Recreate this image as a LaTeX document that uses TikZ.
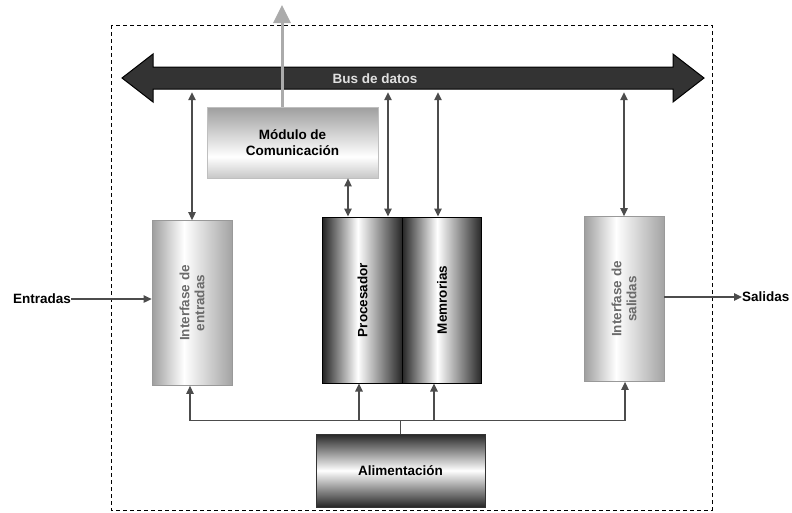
\documentclass[tikz,border=0pt]{standalone}
\usepackage{fontspec}
\setmainfont{Liberation Sans}
\usetikzlibrary{arrows.meta}
\pgfdeclarehorizontalshading{ifsh}{100bp}{color(0bp)=(black!38); color(25bp)=(black!38); color(45bp)=(white); color(75bp)=(black!36); color(100bp)=(black!36)}
\pgfdeclarehorizontalshading{cysh}{100bp}{color(0bp)=(black!85); color(25bp)=(black!85); color(47bp)=(white); color(75bp)=(black!85); color(100bp)=(black!85)}
\pgfdeclareverticalshading{mosh}{100bp}{color(0bp)=(black!22); color(25bp)=(black!22); color(40bp)=(white); color(75bp)=(black!38); color(100bp)=(black!38)}
\pgfdeclareverticalshading{alsh}{100bp}{color(0bp)=(black!85); color(25bp)=(black!85); color(50bp)=(white); color(75bp)=(black!85); color(100bp)=(black!85)}
\begin{document}
\begin{tikzpicture}[x=1pt,y=-1pt,
  font=\bfseries\fontsize{13.5}{15.5}\selectfont,
  conn/.style={draw=black!70, line width=1.3pt},
  tip/.style={-{Triangle[length=8pt,width=7.5pt]}},
  dtip/.style={{Triangle[length=8pt,width=7.5pt]}-{Triangle[length=8pt,width=7.5pt]}},
  iface/.style={draw=black!40, line width=0.8pt, shading=ifsh, minimum width=80pt, minimum height=165pt, inner sep=0pt},
  cyl/.style={draw=black, line width=1pt, shading=cysh, minimum width=79.5pt, minimum height=166pt, inner sep=0pt},
  modbox/.style={draw=black!25, line width=0.8pt, shading=mosh, minimum width=171pt, minimum height=71pt, inner sep=0pt, align=center},
  alibox/.style={draw=black!80, line width=1pt, shading=alsh, minimum width=169pt, minimum height=73pt, inner sep=0pt},
  vtext/.style={rotate=90, align=center, inner sep=0pt, font=\bfseries\fontsize{13.5}{15}\selectfont},
  lbl/.style={inner sep=0pt}
]
\useasboundingbox (0,0) rectangle (792,512);

% dashed frame
\draw[black, line width=0.9pt, dash pattern=on 4pt off 3pt] (111,25) rectangle (712,510);

% bus arrow
\draw[fill=black!80, draw=black, line width=1pt]
  (122,78) -- (153,54) -- (153,67) -- (673,67) -- (673,54) -- (704,78)
  -- (673,102) -- (673,89) -- (153,89) -- (153,102) -- cycle;
\node[minimum width=520pt, minimum height=28pt, inner sep=0pt] (bus) at (413,78) {};
\node[lbl, text=white!88!black] (bustxt) at (375,79) {Bus de datos};

% boxes
\node[iface] (ent) at (192,303) {};
\node[vtext, text=black!58] (enttxt) at (ent.center) {Interfase de\\entradas};
\node[cyl] (proc) at (362.5,300) {};
\node[vtext, text=black] (proctxt) at (proc.center) {Procesador};
\node[cyl] (mem) at (442,300) {};
\node[vtext, text=black] (memtxt) at (mem.center) {Memrorias};
\node[iface] (sal) at (624,299) {};
\node[vtext, text=black!58] (saltxt) at (sal.center) {Interfase de\\salidas};
\node[modbox] (mod) at (292.5,142.5) {Módulo de\\Comunicación};
\node[alibox] (ali) at (400.5,470.5) {Alimentación};

% external labels
\node[lbl, anchor=east] (entr) at (71,299) {Entradas};
\node[lbl, anchor=west] (sali) at (742,297) {Salidas};
\draw[conn, tip] (entr.east) -- (ent.west |- entr.east);
\draw[conn, tip] (sal.east |- sali.west) -- (sali.west);

% communication arrow up
\coordinate (top) at (282,5);
\draw[draw=black!33, line width=3pt, -{Triangle[length=18pt,width=17pt]}] ([xshift=-10.5pt]mod.north) -- (top);

% bus connections
\coordinate (pa) at ([xshift=25.5pt]proc.north);
\coordinate (ma) at ([xshift=-4pt]mem.north);
\coordinate (pm) at ([xshift=-14.5pt]proc.north);
\draw[conn, dtip] (ent.north |- bus.south) -- (ent.north);
\draw[conn, dtip] (pa |- bus.south) -- (pa);
\draw[conn, dtip] (ma |- bus.south) -- (ma);
\draw[conn, dtip] (sal.north |- bus.south) -- (sal.north);
\draw[conn, dtip] (pm |- mod.south) -- (pm);

% power distribution
\draw[conn] (ali.north) -- ++(0,-13) coordinate (pj);
\coordinate (ps) at ([xshift=-3.5pt]proc.south);
\coordinate (ms) at ([xshift=-8pt]mem.south);
\draw[conn] ([xshift=-2pt]ent.south |- pj) -- ([xshift=1pt]sal.south |- pj);
\draw[conn, tip] ([xshift=-2pt]ent.south |- pj) -- ([xshift=-2pt]ent.south);
\draw[conn, tip] (ps |- pj) -- (ps);
\draw[conn, tip] (ms |- pj) -- (ms);
\draw[conn, tip] ([xshift=1pt]sal.south |- pj) -- ([xshift=1pt]sal.south);
\end{tikzpicture}
\end{document}
